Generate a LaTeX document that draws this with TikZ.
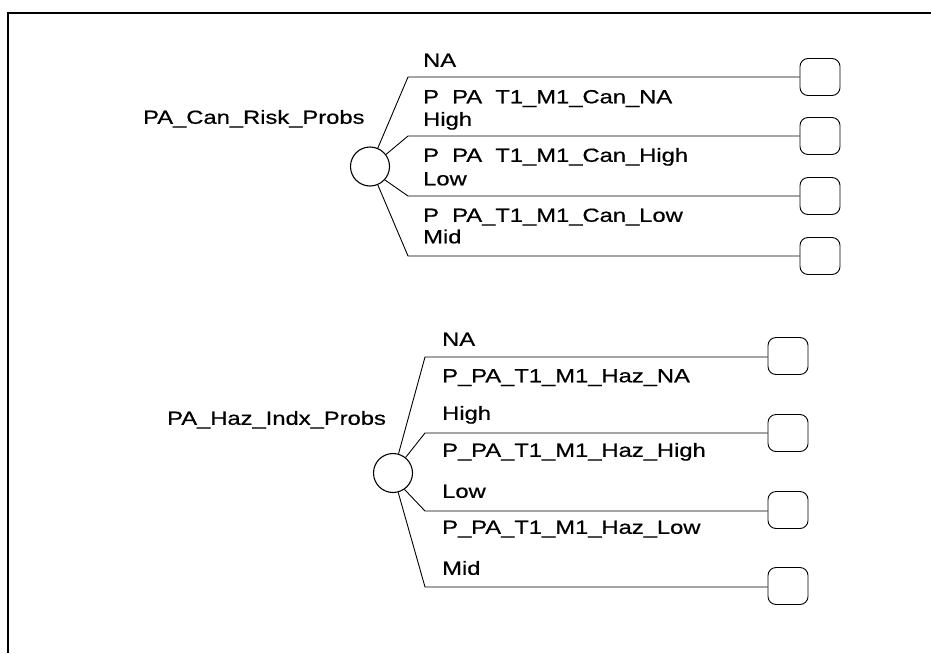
\documentclass[tikz,border=0pt]{standalone}
\usepackage{fontspec}
\setmainfont{Liberation Sans}[FakeStretch=1.25, FakeBold=0.6]
\usetikzlibrary{positioning}

\begin{document}
\begin{tikzpicture}[x=1pt, y=-1pt,
  chance/.style={draw, circle, line width=1.1pt, minimum size=39pt, inner sep=0pt},
  endbox/.style={draw, line width=0.9pt, rounded corners=8pt, minimum width=40pt, minimum height=37pt, inner sep=0pt},
  lbl/.style={anchor=west, inner sep=0pt, text height=13.6pt, text depth=0pt, font=\fontsize{19}{22}\selectfont},
  branch/.style={line width=0.9pt}
]
\useasboundingbox (0,0) rectangle (931,653);
% frame
\coordinate (frtl) at (8,13);
\coordinate (frtr) at (931,13);
\coordinate (frbl) at (8,653);
\draw[line width=2pt] (frtr) -- (frtl) -- (frbl);

% first tree
\node[chance] (can) at (370,166.5) {};
\node[lbl] (canname) at (143,117) {PA\_Can\_Risk\_Probs};
\coordinate (canNA) at (408,77);
\coordinate (canHigh) at (408,136);
\coordinate (canLow) at (408,196);
\coordinate (canMid) at (408,256);
\node[endbox] (canNAend) at (820,77) {};
\node[endbox] (canHighend) at (820,136) {};
\node[endbox] (canLowend) at (820,196) {};
\node[endbox] (canMidend) at (820,256) {};
\draw[branch] (can.67) -- (canNA) -- (canNAend);
\draw[branch] (can.37) -- (canHigh) -- (canHighend);
\draw[branch] (can.-42) -- (canLow) -- (canLowend);
\draw[branch] (can.-67) -- (canMid) -- (canMidend);
\node[lbl] (canNAtxt) at (423,60) {NA};
\node[lbl] (canNAp) at (423,96.5) {P\hphantom{\_}PA\hphantom{\_}T1\_M1\_Can\_NA};
\node[lbl] (canHightxt) at (423,119) {High};
\node[lbl] (canHighp) at (423,155) {P\hphantom{\_}PA\hphantom{\_}T1\_M1\_Can\_High};
\node[lbl] (canLowtxt) at (423,178.5) {Low};
\node[lbl] (canLowp) at (423,215) {P\hphantom{\_}PA\_T1\_M1\_Can\_Low};
\node[lbl] (canMidtxt) at (423,236.5) {Mid};

% second tree
\node[chance] (haz) at (393,473) {};
\node[lbl] (hazname) at (167,418) {PA\_Haz\_Indx\_Probs};
\coordinate (hazNA) at (425,357);
\coordinate (hazHigh) at (425,433);
\coordinate (hazLow) at (425,511);
\coordinate (hazMid) at (425,587);
\node[endbox] (hazNAend) at (788,356) {};
\node[endbox] (hazHighend) at (788,433) {};
\node[endbox] (hazLowend) at (788,510) {};
\node[endbox] (hazMidend) at (788,586) {};
\draw[branch] (haz.74) -- (hazNA) -- (hazNAend.west |- hazNA);
\draw[branch] (haz.51) -- (hazHigh) -- (hazHighend);
\draw[branch] (haz.-55) -- (hazLow) -- (hazLowend.west |- hazLow);
\draw[branch] (haz.-75) -- (hazMid) -- (hazMidend.west |- hazMid);
\node[lbl] (hazNAtxt) at (442,339) {NA};
\node[lbl] (hazNAp) at (442,375.5) {P\_PA\_T1\_M1\_Haz\_NA};
\node[lbl] (hazHightxt) at (442,413) {High};
\node[lbl] (hazHighp) at (442,450) {P\_PA\_T1\_M1\_Haz\_High};
\node[lbl] (hazLowtxt) at (442,491) {Low};
\node[lbl] (hazLowp) at (442,527) {P\_PA\_T1\_M1\_Haz\_Low};
\node[lbl] (hazMidtxt) at (442,568) {Mid};
\end{tikzpicture}
\end{document}
